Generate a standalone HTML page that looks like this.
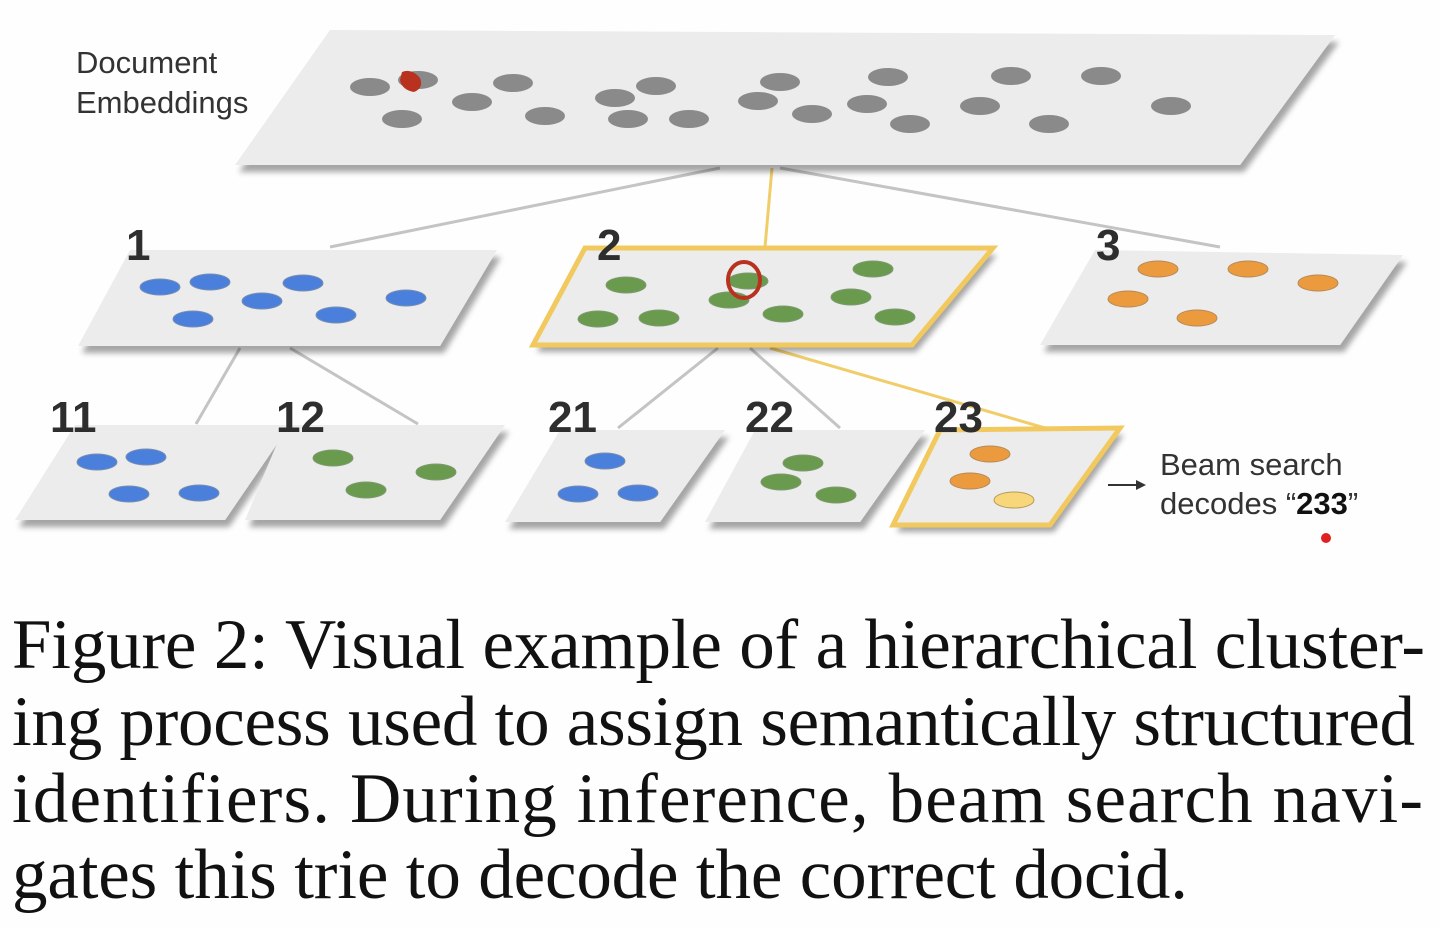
<!DOCTYPE html>
<html><head><meta charset="utf-8"><style>
html,body{margin:0;padding:0;background:#fefefe;}
svg{display:block}
</style></head><body>
<svg width="1440" height="928" viewBox="0 0 1440 928" xmlns="http://www.w3.org/2000/svg">
<defs>
<filter id="sh" x="-10%" y="-10%" width="120%" height="140%">
<feDropShadow dx="4" dy="7" stdDeviation="3" flood-color="#000" flood-opacity="0.35"/>
</filter>
</defs>
<rect width="1440" height="928" fill="#fefefe"/>
<g stroke="#c4c4c4" stroke-width="3" fill="none">
<line x1="720" y1="168" x2="330" y2="247"/>
<line x1="780" y1="168" x2="1220" y2="247"/>
<line x1="240" y1="348" x2="196" y2="424"/>
<line x1="290" y1="348" x2="418" y2="424"/>
<line x1="718" y1="348" x2="618" y2="428"/>
<line x1="750" y1="348" x2="840" y2="428"/>
</g>
<g stroke="#f1cd6a" stroke-width="3" fill="none">
<line x1="772" y1="168" x2="765" y2="247"/>
<line x1="770" y1="348" x2="1045" y2="428"/>
</g>
<g fill="#ececec" filter="url(#sh)">
<polygon points="330,30 1335,35 1240,165 235,165"/>
<polygon points="130,250 497,250 440,346 78,346"/>
<polygon points="585,248 993,248 912,345 533,345"/>
<polygon points="1095,250 1403,255 1340,345 1040,345"/>
<polygon points="75,425 290,425 225,520 15,520"/>
<polygon points="285,425 505,425 440,520 245,520"/>
<polygon points="560,430 725,430 660,522 505,522"/>
<polygon points="755,430 925,430 860,522 705,522"/>
<polygon points="940,430 1120,428 1050,525 893,525"/>
</g>
<g fill="none" stroke="#f1c95e" stroke-width="5">
<polygon points="585,248 993,248 912,345 533,345"/>
<polygon points="940,430 1120,428 1050,525 893,525"/>
</g>
<g fill="#8a8a8a">
<ellipse cx="370" cy="87" rx="20" ry="9"/><ellipse cx="418" cy="80" rx="20" ry="9"/><ellipse cx="402" cy="119" rx="20" ry="9"/>
<ellipse cx="472" cy="102" rx="20" ry="9"/><ellipse cx="513" cy="83" rx="20" ry="9"/><ellipse cx="545" cy="116" rx="20" ry="9"/>
<ellipse cx="615" cy="98" rx="20" ry="9"/><ellipse cx="656" cy="86" rx="20" ry="9"/><ellipse cx="628" cy="119" rx="20" ry="9"/>
<ellipse cx="689" cy="119" rx="20" ry="9"/><ellipse cx="758" cy="101" rx="20" ry="9"/><ellipse cx="780" cy="82" rx="20" ry="9"/>
<ellipse cx="812" cy="114" rx="20" ry="9"/><ellipse cx="888" cy="77" rx="20" ry="9"/><ellipse cx="867" cy="104" rx="20" ry="9"/>
<ellipse cx="910" cy="124" rx="20" ry="9"/><ellipse cx="1011" cy="76" rx="20" ry="9"/><ellipse cx="980" cy="106" rx="20" ry="9"/>
<ellipse cx="1049" cy="124" rx="20" ry="9"/><ellipse cx="1101" cy="76" rx="20" ry="9"/><ellipse cx="1171" cy="106" rx="20" ry="9"/>
</g>
<path d="M402,72 Q412,68 420,78 Q424,88 414,92 Q402,90 400,80 Z" fill="#b8321f"/>
<g fill="#4a7fdc" stroke="#7a8fb0" stroke-width="1">
<ellipse cx="160" cy="287" rx="20" ry="8"/><ellipse cx="210" cy="282" rx="20" ry="8"/><ellipse cx="262" cy="301" rx="20" ry="8"/>
<ellipse cx="303" cy="283" rx="20" ry="8"/><ellipse cx="193" cy="319" rx="20" ry="8"/><ellipse cx="336" cy="315" rx="20" ry="8"/>
<ellipse cx="406" cy="298" rx="20" ry="8"/>
<ellipse cx="97" cy="462" rx="20" ry="8"/><ellipse cx="146" cy="457" rx="20" ry="8"/><ellipse cx="129" cy="494" rx="20" ry="8"/><ellipse cx="199" cy="493" rx="20" ry="8"/>
<ellipse cx="605" cy="461" rx="20" ry="8"/><ellipse cx="578" cy="494" rx="20" ry="8"/><ellipse cx="638" cy="493" rx="20" ry="8"/>
</g>
<g fill="#6a9a4e" stroke="#7f9a70" stroke-width="1">
<ellipse cx="626" cy="285" rx="20" ry="8"/><ellipse cx="598" cy="319" rx="20" ry="8"/><ellipse cx="659" cy="318" rx="20" ry="8"/>
<ellipse cx="729" cy="300" rx="20" ry="8"/><ellipse cx="748" cy="281" rx="20" ry="8"/><ellipse cx="783" cy="314" rx="20" ry="8"/>
<ellipse cx="873" cy="269" rx="20" ry="8"/><ellipse cx="851" cy="297" rx="20" ry="8"/><ellipse cx="895" cy="317" rx="20" ry="8"/>
<ellipse cx="333" cy="458" rx="20" ry="8"/><ellipse cx="436" cy="472" rx="20" ry="8"/><ellipse cx="366" cy="490" rx="20" ry="8"/>
<ellipse cx="803" cy="463" rx="20" ry="8"/><ellipse cx="781" cy="482" rx="20" ry="8"/><ellipse cx="836" cy="495" rx="20" ry="8"/>
</g>
<ellipse cx="744" cy="280" rx="16" ry="18" fill="none" stroke="#b8321f" stroke-width="4"/>
<g fill="#ec9a3e" stroke="#b58a5a" stroke-width="1">
<ellipse cx="1158" cy="269" rx="20" ry="8"/><ellipse cx="1248" cy="269" rx="20" ry="8"/><ellipse cx="1318" cy="283" rx="20" ry="8"/>
<ellipse cx="1128" cy="299" rx="20" ry="8"/><ellipse cx="1197" cy="318" rx="20" ry="8"/>
<ellipse cx="990" cy="454" rx="20" ry="8"/><ellipse cx="970" cy="481" rx="20" ry="8"/>
</g>
<ellipse cx="1014" cy="500" rx="20" ry="8" fill="#f7d77a" stroke="#b59a5a" stroke-width="1"/>
<g font-family="Liberation Sans, sans-serif" fill="#333">
<text x="76" y="73" font-size="31">Document</text>
<text x="76" y="113" font-size="31">Embeddings</text>
<g font-size="44" font-weight="bold" fill="#2e2e2e">
<text x="126" y="260">1</text><text x="597" y="260">2</text><text x="1096" y="260">3</text>
<text x="50" y="432">11</text><text x="276" y="432">12</text><text x="548" y="432">21</text>
<text x="745" y="432">22</text><text x="934" y="432">23</text>
</g>
<text x="1160" y="475" font-size="31">Beam search</text>
<text x="1160" y="514" font-size="31">decodes “<tspan font-weight="bold" fill="#111">233</tspan>”</text>
</g>
<line x1="1108" y1="485" x2="1138" y2="485" stroke="#333" stroke-width="2"/>
<polygon points="1146,485 1136,480 1136,490" fill="#333"/>
<circle cx="1326" cy="538" r="5" fill="#e02020"/>
<g font-family="Liberation Serif, serif" font-size="71" fill="#111">
<text x="12" y="668" textLength="1413" lengthAdjust="spacing">Figure 2: Visual example of a hierarchical cluster-</text>
<text x="12" y="745" textLength="1403" lengthAdjust="spacing">ing process used to assign semantically structured</text>
<text x="12" y="822" textLength="1411" lengthAdjust="spacing">identifiers.  During inference, beam search navi-</text>
<text x="12" y="898" textLength="1176" lengthAdjust="spacing">gates this trie to decode the correct docid.</text>
</g>
</svg>
</body></html>
